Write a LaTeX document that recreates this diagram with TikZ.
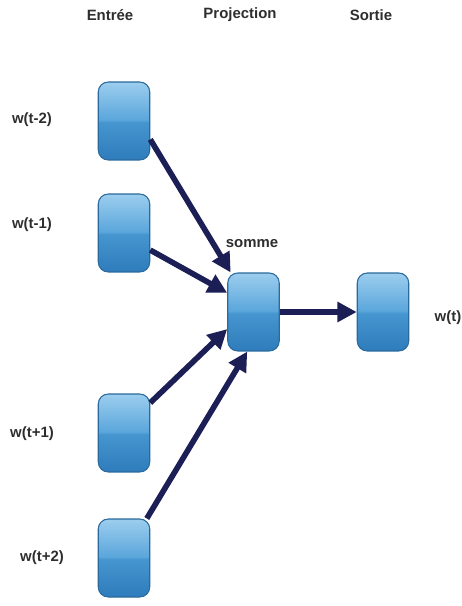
\documentclass[tikz,border=0pt]{standalone}
\usepackage{fontspec}
\setmainfont{Liberation Sans}
\usepackage{tikz}
\usetikzlibrary{arrows.meta}
\definecolor{boxtop}{HTML}{9CCDEE}
\definecolor{boxup}{HTML}{5AA6DB}
\definecolor{boxlow}{HTML}{4696D0}
\definecolor{boxbot}{HTML}{2E7CBB}
\definecolor{boxline}{HTML}{2A6A9C}
\definecolor{arrowcol}{HTML}{1C1F55}
\definecolor{txtcol}{HTML}{2E2E2E}
\pgfdeclareverticalshading{boxshade}{100bp}{color(0bp)=(boxbot); color(25bp)=(boxbot); color(49.5bp)=(boxlow); color(50.5bp)=(boxup); color(75bp)=(boxtop); color(100bp)=(boxtop)}
\tikzstyle{cell} = [rectangle, rounded corners=0.2cm, minimum width=1.03cm, minimum height=1.56cm, inner sep=0pt, draw=boxline, line width=0.6pt, shading=boxshade]
\tikzstyle{label} = [font=\bfseries\fontsize{8.5}{10}\selectfont, text=txtcol]
\tikzstyle{arrow} = [line width=3.2pt, draw=arrowcol, -{Triangle[length=11pt,width=11pt]}]

\begin{document}
\begin{tikzpicture}[x=0.02cm, y=-0.02cm]
\useasboundingbox (0,0) rectangle (462,606);
%titres des colonnes
\node (hin) [label] at (110,15) {Entrée};
\node (hproj) [label] at (240,15) {Projection};
\node (hout) [label] at (371,15) {Sortie};

%cellules
\node (in1) [cell] at (124,121) {};
\node (in2) [cell] at (124,233) {};
\node (in3) [cell] at (124,433) {};
\node (in4) [cell] at (124,558) {};
\node (proj) [cell] at (253.5,312) {};
\node (out) [cell] at (383,312) {};

%mots
\node (w1) [label] at (32,120) {w(t-2)};
\node (w2) [label] at (32,225) {w(t-1)};
\node (w3) [label] at (32,434) {w(t+1)};
\node (w4) [label] at (42,558) {w(t+2)};
\node (sum) [label] at (252,244) {somme};
\node (wt) [label] at (448,318) {w(t)};

%connexions
\draw [arrow] (in1.-35) -- (proj.120);
\draw [arrow] (in2.-33) -- (proj.144);
\draw [arrow] (in3.49) -- (proj.213);
\draw [arrow] (in4.60) -- (proj.261);
\draw [arrow] (proj.east) -- (out.west);
\end{tikzpicture}
\end{document}
